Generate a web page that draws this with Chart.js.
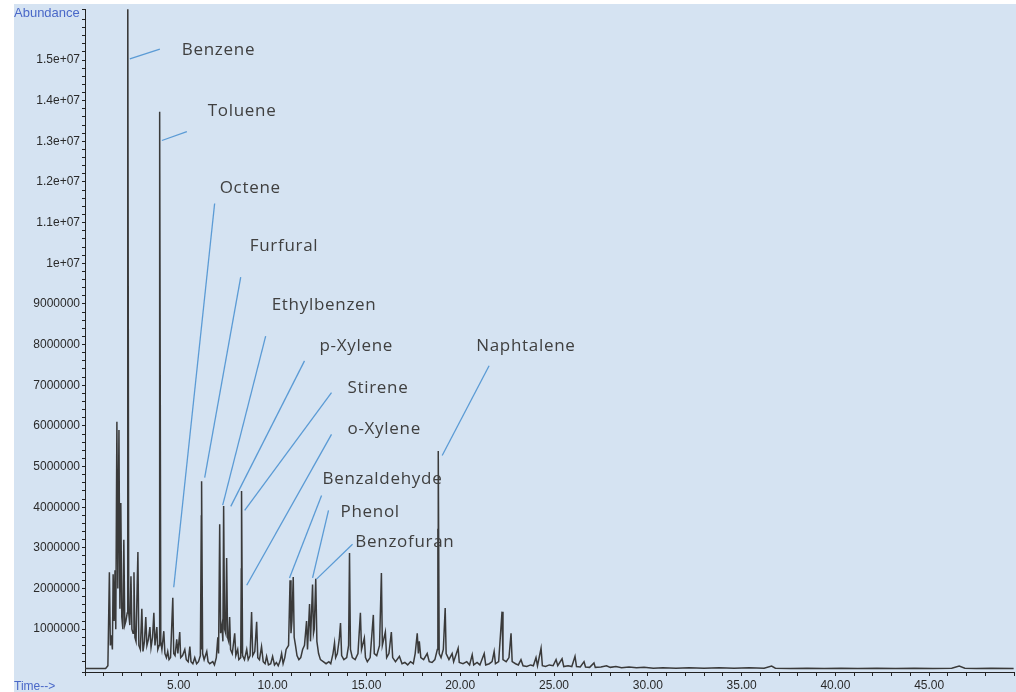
<!DOCTYPE html>
<html>
<head>
  <title>TIC - pyrolysis products</title>
  <script src="https://cdn.jsdelivr.net/npm/chart.js"></script>
  <style>
    body { margin: 0; background: #fff; }
    canvas { display: block; }
  </style>
</head>
<body>
  <canvas id="tic" width="1016" height="692"></canvas>

  <script>
    // [retention time (min), abundance (millions of counts)]
    const ticTrace = [
      [0.00, 0.03], [1.10, 0.03], [1.22, 0.10], [1.30, 2.40], [1.35, 0.60], [1.40, 0.85],
      [1.46, 0.50], [1.50, 2.35], [1.55, 1.20], [1.60, 2.45], [1.64, 1.00], [1.70, 6.10],
      [1.75, 2.00], [1.81, 5.90], [1.86, 1.50], [1.91, 4.10], [1.96, 1.30], [2.02, 1.00],
      [2.07, 3.20], [2.12, 1.10], [2.18, 1.20], [2.25, 1.40], [2.27, 10.10], [2.28, 1.50],
      [2.29, 17.00], [2.33, 1.40], [2.39, 1.10], [2.45, 2.30], [2.50, 1.00], [2.56, 0.90],
      [2.61, 2.40], [2.66, 0.80], [2.72, 0.70], [2.82, 2.90], [2.87, 0.60], [2.95, 0.50],
      [3.03, 1.50], [3.09, 0.45], [3.17, 0.70], [3.24, 1.30], [3.30, 0.60], [3.38, 0.75],
      [3.46, 1.05], [3.52, 0.55], [3.60, 0.80], [3.67, 1.40], [3.73, 0.60], [3.83, 1.05],
      [3.88, 0.50], [3.95, 0.60], [3.97, 7.45], [3.98, 0.80], [3.99, 13.73], [4.04, 0.70],
      [4.10, 0.50], [4.20, 0.95], [4.26, 0.40], [4.34, 0.30], [4.41, 0.45], [4.48, 0.25],
      [4.56, 0.30], [4.68, 1.77], [4.73, 0.40], [4.80, 0.35], [4.89, 0.75], [4.95, 0.40],
      [5.05, 0.93], [5.10, 0.30], [5.20, 0.35], [5.32, 0.50], [5.40, 0.25], [5.50, 0.20],
      [5.59, 0.57], [5.65, 0.20], [5.75, 0.15], [5.85, 0.30], [5.95, 0.15], [6.05, 0.20],
      [6.15, 0.35], [6.20, 3.80], [6.21, 0.50], [6.22, 4.64], [6.27, 0.40], [6.35, 0.25],
      [6.49, 0.45], [6.56, 0.20], [6.65, 0.15], [6.81, 0.20], [6.90, 0.12], [7.00, 0.30],
      [7.08, 0.80], [7.12, 0.40], [7.18, 3.58], [7.23, 0.90], [7.30, 1.10], [7.35, 0.70],
      [7.39, 4.03], [7.44, 1.00], [7.50, 0.90], [7.55, 2.75], [7.60, 0.80], [7.66, 0.70],
      [7.71, 1.30], [7.76, 0.50], [7.85, 0.40], [7.98, 0.90], [8.04, 0.35], [8.14, 0.50],
      [8.20, 0.25], [8.30, 0.30], [8.33, 2.50], [8.34, 0.40], [8.35, 4.40], [8.40, 0.35],
      [8.50, 0.25], [8.62, 0.50], [8.70, 0.25], [8.80, 0.35], [8.88, 1.42], [8.94, 0.35],
      [9.05, 0.45], [9.15, 1.18], [9.21, 0.30], [9.30, 0.25], [9.41, 0.57], [9.50, 0.20],
      [9.60, 0.15], [9.68, 0.33], [9.78, 0.12], [9.90, 0.15], [10.00, 0.33], [10.10, 0.12],
      [10.20, 0.18], [10.30, 0.10], [10.40, 0.22], [10.48, 0.40], [10.56, 0.15], [10.65, 0.30],
      [10.72, 0.50], [10.85, 0.60], [10.93, 2.20], [10.98, 0.90], [11.03, 1.20], [11.10, 2.28],
      [11.15, 0.80], [11.22, 0.60], [11.30, 0.35], [11.40, 0.25], [11.50, 0.30], [11.60, 0.50],
      [11.70, 0.60], [11.81, 1.20], [11.86, 0.50], [11.97, 1.62], [12.02, 0.70], [12.13, 2.10],
      [12.18, 0.90], [12.22, 1.00], [12.30, 2.24], [12.36, 0.70], [12.45, 0.40], [12.55, 0.25],
      [12.70, 0.20], [12.85, 0.15], [13.00, 0.20], [13.10, 0.15], [13.22, 0.40], [13.30, 0.66],
      [13.36, 0.30], [13.45, 0.40], [13.55, 0.74], [13.62, 1.15], [13.68, 0.35], [13.80, 0.25],
      [13.95, 0.30], [14.05, 0.60], [14.10, 2.87], [14.15, 0.50], [14.25, 0.30], [14.40, 0.25],
      [14.55, 0.40], [14.68, 1.40], [14.74, 0.50], [14.89, 0.78], [14.95, 0.30], [15.05, 0.20],
      [15.20, 0.30], [15.37, 1.35], [15.42, 0.40], [15.55, 0.35], [15.70, 0.60], [15.80, 2.38],
      [15.85, 0.60], [16.01, 0.93], [16.08, 0.30], [16.20, 0.40], [16.33, 0.93], [16.40, 0.30],
      [16.55, 0.20], [16.76, 0.33], [16.90, 0.15], [17.05, 0.18], [17.20, 0.12], [17.35, 0.20],
      [17.50, 0.15], [17.60, 0.40], [17.71, 0.90], [17.77, 0.40], [17.82, 0.70], [17.90, 0.30],
      [18.05, 0.25], [18.24, 0.40], [18.35, 0.20], [18.50, 0.18], [18.65, 0.25], [18.78, 0.50],
      [18.81, 3.47], [18.82, 0.60], [18.83, 5.38], [18.88, 0.40], [18.98, 0.30], [19.10, 0.50],
      [19.20, 1.52], [19.25, 0.40], [19.40, 0.25], [19.57, 0.40], [19.65, 0.20], [19.89, 0.53],
      [19.95, 0.18], [20.15, 0.15], [20.35, 0.20], [20.50, 0.12], [20.64, 0.37], [20.72, 0.12],
      [20.90, 0.18], [21.05, 0.12], [21.28, 0.40], [21.36, 0.12], [21.55, 0.15], [21.70, 0.20],
      [21.81, 0.45], [21.88, 0.15], [22.05, 0.20], [22.23, 1.43], [22.28, 0.25], [22.45, 0.20],
      [22.60, 0.30], [22.71, 0.90], [22.77, 0.20], [22.95, 0.15], [23.10, 0.12], [23.24, 0.25],
      [23.35, 0.10], [23.55, 0.08], [23.75, 0.12], [23.90, 0.10], [24.04, 0.30], [24.12, 0.10],
      [24.31, 0.53], [24.38, 0.10], [24.55, 0.08], [24.75, 0.12], [24.95, 0.10], [25.11, 0.25],
      [25.20, 0.10], [25.43, 0.27], [25.52, 0.08], [25.75, 0.10], [25.95, 0.08], [26.12, 0.33],
      [26.20, 0.08], [26.40, 0.07], [26.60, 0.20], [26.68, 0.07], [26.90, 0.06], [27.13, 0.17],
      [27.20, 0.06], [27.50, 0.07], [27.80, 0.10], [28.00, 0.06], [28.30, 0.08], [28.60, 0.05],
      [29.00, 0.07], [29.40, 0.05], [29.80, 0.06], [30.30, 0.04], [30.80, 0.05], [31.50, 0.04],
      [32.20, 0.05], [33.00, 0.04], [33.80, 0.05], [34.60, 0.04], [35.40, 0.05], [36.20, 0.04],
      [36.60, 0.09], [36.80, 0.04], [37.60, 0.03], [38.50, 0.04], [39.40, 0.03], [40.30, 0.04],
      [41.20, 0.03], [42.20, 0.04], [43.20, 0.03], [44.20, 0.04], [45.20, 0.03], [46.20, 0.04],
      [46.60, 0.09], [46.90, 0.04], [47.50, 0.03], [48.30, 0.04], [49.50, 0.03]
    ];

    const yTickLabels = ['1000000', '2000000', '3000000', '4000000', '5000000', '6000000',
      '7000000', '8000000', '9000000', '1e+07', '1.1e+07', '1.2e+07', '1.3e+07', '1.4e+07', '1.5e+07'];
    const xTickLabels = ['5.00', '10.00', '15.00', '20.00', '25.00', '30.00', '35.00', '40.00', '45.00'];

    const compoundNames = ['Benzene', 'Toluene', 'Octene', 'Furfural', 'Ethylbenzen', 'p-Xylene',
      'Stirene', 'o-Xylene', 'Benzaldehyde', 'Phenol', 'Benzofuran', 'Naphtalene'];

    // callout geometry in data units: leader line start, leader line end, text anchor
    const callouts = [
      { from: [2.39, 15.03], to: [3.99, 15.27], text: [5.16, 15.25] },
      { from: [4.10, 13.02], to: [5.43, 13.24], text: [6.54, 13.73] },
      { from: [4.73, 2.03], to: [6.91, 11.47], text: [7.18, 11.84] },
      { from: [6.38, 4.73], to: [8.30, 9.66], text: [8.78, 10.42] },
      { from: [7.34, 4.05], to: [9.63, 8.21], text: [9.95, 8.97] },
      { from: [7.77, 4.02], to: [11.70, 7.60], text: [12.50, 7.97] },
      { from: [8.51, 3.92], to: [13.14, 6.82], text: [13.99, 6.94] },
      { from: [8.62, 2.08], to: [13.14, 5.79], text: [13.99, 5.93] },
      { from: [10.90, 2.26], to: [12.61, 4.29], text: [12.66, 4.68] },
      { from: [12.13, 2.26], to: [12.98, 3.92], text: [13.62, 3.87] },
      { from: [12.34, 2.23], to: [14.26, 3.09], text: [14.41, 3.14] },
      { from: [19.04, 5.27], to: [21.54, 7.48], text: [20.85, 7.97] }
    ];

    const panelBg = {
      id: 'panelBg',
      beforeDraw(chart) {
        const { ctx, width, height } = chart;
        ctx.save();
        ctx.fillStyle = '#ffffff';
        ctx.fillRect(0, 0, width, height);
        ctx.fillStyle = '#d5e3f2';
        ctx.fillRect(14, 4, width - 14, height - 4);
        ctx.restore();
      },
      afterDraw(chart) {
        const ctx = chart.ctx;
        ctx.save();
        ctx.fillStyle = '#4a68c8';
        ctx.font = '13px "Liberation Sans", Arial, sans-serif';
        ctx.textBaseline = 'middle';
        ctx.fillText('Abundance', 14, 13);
        ctx.font = '12px "Liberation Sans", Arial, sans-serif';
        ctx.fillText('Time-->', 14, 687);
        ctx.restore();
      }
    };

    const calloutPlugin = {
      id: 'callouts',
      afterDatasetsDraw(chart) {
        const { ctx, scales: { x, y } } = chart;
        ctx.save();
        ctx.strokeStyle = '#5b9bd5';
        ctx.lineWidth = 1.3;
        ctx.fillStyle = '#404040';
        ctx.font = '17px "Open Sans", sans-serif';
        ctx.letterSpacing = '0.7px';
        ctx.textBaseline = 'middle';
        callouts.forEach((c, i) => {
          ctx.beginPath();
          ctx.moveTo(x.getPixelForValue(c.from[0]), y.getPixelForValue(c.from[1]));
          ctx.lineTo(x.getPixelForValue(c.to[0]), y.getPixelForValue(c.to[1]));
          ctx.stroke();
          ctx.fillText(compoundNames[i], x.getPixelForValue(c.text[0]), y.getPixelForValue(c.text[1]));
        });
        ctx.restore();
      }
    };

    const tickFont = { family: '"Liberation Sans", Arial, sans-serif', size: 12 };

    new Chart(document.getElementById('tic'), {
      type: 'line',
      data: {
        datasets: [{
          data: ticTrace.map(p => ({ x: p[0], y: p[1] })),
          borderColor: '#3a3a3a',
          borderWidth: 1.5,
          pointRadius: 0,
          tension: 0,
          fill: false
        }]
      },
      options: {
        responsive: false,
        animation: false,
        layout: { padding: { top: 7, left: 0, right: 0, bottom: 0 } },
        plugins: { legend: { display: false }, tooltip: { enabled: false } },
        scales: {
          x: {
            type: 'linear',
            min: 0,
            max: 49.52,
            afterFit: s => { s.height = 20; },
            border: { color: '#222', width: 1 },
            grid: { drawOnChartArea: false, tickLength: 4, color: '#222' },
            ticks: {
              stepSize: 1,
              autoSkip: false,
              maxRotation: 0,
              padding: 2,
              color: '#2a2a2a',
              font: tickFont,
              callback: v => (v > 0 && Math.abs(v % 5) < 1e-9) ? (xTickLabels[v / 5 - 1] || '') : ''
            }
          },
          y: {
            min: -0.054,
            max: 16.25,
            afterFit: s => { s.width = 85; },
            border: { color: '#222', width: 1 },
            grid: { drawOnChartArea: false, tickLength: 3, color: '#222' },
            ticks: {
              stepSize: 0.2,
              autoSkip: false,
              padding: 2,
              color: '#2a2a2a',
              font: tickFont,
              callback: v => {
                const i = Math.round(v);
                return (Math.abs(v - i) < 1e-6 && i >= 1 && i <= yTickLabels.length) ? yTickLabels[i - 1] : '';
              }
            }
          }
        }
      },
      plugins: [panelBg, calloutPlugin]
    });
  </script>
</body>
</html>
